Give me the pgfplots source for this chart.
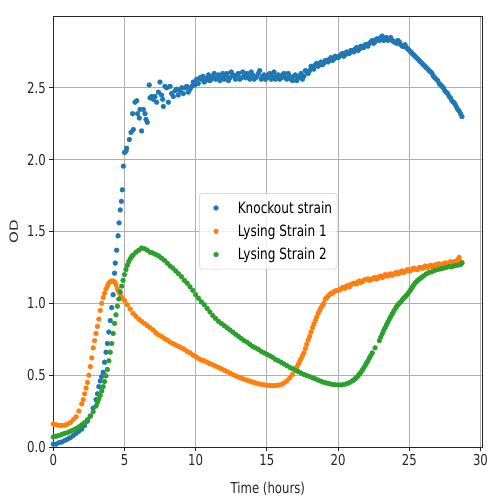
\documentclass[border=0pt]{standalone}
\usepackage{pgfplots}
\pgfplotsset{compat=1.18}
\usepackage{pgfplotstable}
\usepackage{fontspec}
\setmainfont{DejaVu Sans}[FakeStretch=0.78]
\newfontfamily\odfont{DejaVu Sans}
\definecolor{tabblue}{HTML}{1F77B4}
\definecolor{taborange}{HTML}{FF7F0E}
\definecolor{tabgreen}{HTML}{2CA02C}
\definecolor{gridc}{HTML}{B0B0B0}

\pgfplotstableread{
t od
0.0 0.02
0.2 0.02
0.4 0.03
0.6 0.035
0.8 0.045
1.0 0.055
1.2 0.065
1.4 0.08
1.6 0.095
1.8 0.11
2.0 0.125
2.2 0.15
2.4 0.18
2.6 0.215
2.8 0.27
3.0 0.33
3.1 0.37
3.2 0.42
3.3 0.46
3.4 0.49
3.5 0.52
3.6 0.59
3.7 0.66
3.8 0.72
3.9 0.80
4.0 0.88
4.1 0.97
4.2 1.06
4.3 1.21
4.35 1.28
4.45 1.37
4.55 1.47
4.62 1.56
4.7 1.65
4.78 1.71
4.85 1.79
4.92 1.955
5.0 2.05
5.11 2.06
5.15 2.08
5.34 2.14
5.46 2.19
5.62 2.21
5.57 2.32
5.86 2.41
5.74 2.40
5.92 2.32
6.04 2.29
6.09 2.35
6.2 2.20
6.32 2.35
6.44 2.32
6.51 2.28
6.6 2.26
6.74 2.52
6.79 2.43
6.91 2.44
7.02 2.42
7.14 2.44
7.26 2.40
7.38 2.47
7.49 2.54
7.6 2.45
7.68 2.42
7.73 2.37
7.84 2.51
7.96 2.50
8.08 2.40
8.2 2.51
8.31 2.46
8.43 2.44
8.55 2.48
8.66 2.49
8.78 2.45
8.9 2.48
9.02 2.50
9.13 2.46
9.25 2.50
9.37 2.51
9.48 2.47
9.6 2.49
9.72 2.51
9.83 2.54
9.95 2.52
10.07 2.56
10.18 2.53
10.3 2.57
10.4 2.56
10.6 2.54
10.8 2.57
11.0 2.55
11.2 2.58
11.4 2.56
11.6 2.59
11.8 2.57
12.0 2.56
12.2 2.60
12.4 2.57
12.6 2.59
12.8 2.56
13.0 2.60
13.2 2.57
13.4 2.58
13.6 2.60
13.8 2.56
14.0 2.59
14.2 2.57
14.4 2.60
14.6 2.56
14.8 2.59
15.0 2.57
15.2 2.60
15.4 2.58
15.6 2.56
15.8 2.59
16.0 2.57
16.2 2.60
16.4 2.56
16.6 2.58
16.8 2.55
17.0 2.59
17.2 2.57
17.4 2.60
17.6 2.58
17.8 2.61
18.0 2.62
18.2 2.64
18.4 2.66
18.6 2.65
18.8 2.68
19.0 2.67
19.2 2.69
19.4 2.70
19.6 2.69
19.8 2.72
20.0 2.71
20.2 2.73
20.4 2.72
20.6 2.75
20.8 2.74
21.0 2.76
21.2 2.77
21.4 2.76
21.6 2.79
21.8 2.78
22.0 2.80
22.2 2.81
22.4 2.83
22.6 2.82
22.8 2.84
23.0 2.85
23.2 2.83
23.4 2.85
23.6 2.84
23.8 2.83
24.0 2.82
24.2 2.83
24.4 2.80
24.6 2.79
24.8 2.78
25.0 2.76
25.2 2.74
25.4 2.72
25.6 2.70
25.8 2.68
26.0 2.66
26.2 2.64
26.4 2.62
26.6 2.60
26.8 2.57
27.0 2.55
27.2 2.52
27.4 2.50
27.6 2.47
27.8 2.44
28.0 2.41
28.2 2.39
28.4 2.35
28.6 2.32
28.7 2.30
10.5 2.58
10.7 2.55
10.9 2.59
11.1 2.56
11.3 2.60
11.5 2.57
11.7 2.55
11.9 2.60
12.1 2.58
12.3 2.55
12.5 2.61
12.7 2.58
12.9 2.59
13.1 2.56
13.3 2.61
13.5 2.57
13.7 2.58
13.9 2.61
14.1 2.56
14.3 2.58
14.5 2.62
14.7 2.58
14.9 2.56
15.1 2.59
15.3 2.56
15.5 2.61
15.7 2.58
15.9 2.56
16.1 2.59
16.3 2.57
16.5 2.60
16.7 2.56
16.9 2.58
17.1 2.55
17.3 2.58
17.5 2.56
17.7 2.62
17.9 2.60
18.1 2.65
18.3 2.63
18.5 2.67
18.7 2.66
18.9 2.66
19.1 2.69
19.3 2.68
19.5 2.71
19.7 2.70
19.9 2.71
20.1 2.72
20.3 2.74
20.5 2.73
20.7 2.74
20.9 2.76
21.1 2.75
21.3 2.78
21.5 2.77
21.7 2.78
21.9 2.80
22.1 2.79
22.3 2.82
22.5 2.81
22.7 2.84
22.9 2.83
23.1 2.86
23.3 2.84
23.5 2.83
23.7 2.85
23.9 2.82
24.1 2.81
24.3 2.82
24.5 2.79
24.7 2.80
24.9 2.77
25.1 2.75
25.3 2.73
25.5 2.71
25.7 2.69
25.9 2.67
26.1 2.65
26.3 2.63
26.5 2.61
26.7 2.58
26.9 2.56
27.1 2.53
27.3 2.51
27.5 2.48
27.7 2.46
27.9 2.43
28.1 2.40
28.3 2.37
28.5 2.34
}\knockout

\pgfplotstableread{
t od
0.0 0.16
0.2 0.155
0.4 0.15
0.6 0.15
0.8 0.152
1.0 0.16
1.2 0.17
1.4 0.19
1.6 0.21
1.8 0.25
2.0 0.30
2.1 0.33
2.2 0.37
2.3 0.41
2.4 0.45
2.5 0.50
2.6 0.56
2.7 0.62
2.8 0.69
2.9 0.74
3.0 0.79
3.1 0.84
3.2 0.89
3.3 0.95
3.4 1.00
3.5 1.04
3.6 1.07
3.7 1.10
3.8 1.12
3.9 1.14
4.0 1.15
4.1 1.155
4.2 1.155
4.3 1.15
4.4 1.13
4.5 1.10
4.6 1.08
4.7 1.06
4.8 1.04
5.0 1.02
5.2 0.99
5.4 0.96
5.6 0.93
5.8 0.91
6.0 0.89
6.2 0.875
6.4 0.86
6.6 0.845
6.8 0.83
7.0 0.815
7.2 0.795
7.4 0.78
7.6 0.77
7.8 0.755
8.0 0.745
8.2 0.73
8.4 0.72
8.6 0.71
8.8 0.70
9.0 0.69
9.2 0.68
9.4 0.665
9.6 0.655
9.8 0.64
10.0 0.63
10.2 0.615
10.4 0.605
10.6 0.60
10.8 0.59
11.0 0.58
11.2 0.572
11.4 0.563
11.6 0.554
11.8 0.545
12.0 0.535
12.2 0.525
12.4 0.515
12.6 0.505
12.8 0.495
13.0 0.487
13.2 0.48
13.4 0.472
13.6 0.465
13.8 0.458
14.0 0.452
14.2 0.446
14.4 0.44
14.6 0.436
14.8 0.433
15.0 0.43
15.2 0.428
15.4 0.427
15.6 0.428
15.8 0.43
16.0 0.435
16.2 0.445
16.4 0.46
16.6 0.48
16.8 0.505
17.0 0.535
17.2 0.575
17.4 0.615
17.6 0.655
17.8 0.715
18.0 0.77
18.2 0.83
18.4 0.88
18.6 0.93
18.8 0.97
19.0 1.00
19.2 1.04
19.4 1.06
19.6 1.07
19.8 1.085
20.0 1.09
20.2 1.10
20.4 1.11
20.6 1.12
20.8 1.115
21.0 1.135
21.2 1.14
21.4 1.15
21.6 1.145
21.8 1.16
22.0 1.165
22.2 1.16
22.4 1.17
22.6 1.18
22.8 1.175
23.0 1.19
23.2 1.185
23.4 1.195
23.6 1.20
23.8 1.195
24.0 1.21
24.2 1.205
24.4 1.22
24.6 1.215
24.8 1.23
25.0 1.225
25.2 1.235
25.4 1.24
25.6 1.235
25.8 1.25
26.0 1.245
26.2 1.255
26.4 1.26
26.6 1.255
26.8 1.265
27.0 1.27
27.2 1.265
27.4 1.275
27.6 1.28
27.8 1.275
28.0 1.285
28.2 1.29
28.4 1.30
28.5 1.32
28.6 1.29
28.7 1.285
17.1 0.555
17.3 0.595
17.5 0.635
17.7 0.685
17.9 0.745
18.1 0.80
18.3 0.855
18.5 0.905
18.7 0.95
18.9 0.985
19.1 1.03
19.3 1.05
19.5 1.07
19.7 1.08
19.9 1.09
20.1 1.095
20.3 1.11
20.5 1.105
20.7 1.125
20.9 1.13
21.1 1.14
21.3 1.135
21.5 1.155
21.7 1.15
21.9 1.165
22.1 1.17
22.3 1.165
22.5 1.175
22.7 1.17
22.9 1.185
23.1 1.18
23.3 1.20
23.5 1.19
23.7 1.205
23.9 1.20
24.1 1.215
24.3 1.21
24.5 1.225
24.7 1.22
24.9 1.235
25.1 1.23
25.3 1.245
25.5 1.235
25.7 1.25
25.9 1.245
26.1 1.26
26.3 1.25
26.5 1.265
26.7 1.26
26.9 1.27
27.1 1.275
27.3 1.27
27.5 1.28
27.7 1.275
27.9 1.29
28.1 1.285
28.3 1.295
}\lysingone

\pgfplotstableread{
t od
0.0 0.07
0.2 0.075
0.4 0.08
0.6 0.088
0.8 0.095
1.0 0.10
1.2 0.11
1.4 0.118
1.6 0.128
1.8 0.14
2.0 0.155
2.2 0.17
2.4 0.19
2.6 0.215
2.8 0.245
3.0 0.285
3.1 0.31
3.2 0.335
3.3 0.36
3.4 0.39
3.5 0.42
3.6 0.455
3.7 0.495
3.8 0.54
3.9 0.60
4.0 0.66
4.1 0.72
4.2 0.79
4.3 0.86
4.4 0.92
4.5 0.98
4.6 1.03
4.7 1.08
4.8 1.12
4.9 1.16
5.0 1.20
5.1 1.235
5.2 1.265
5.3 1.29
5.4 1.31
5.5 1.325
5.6 1.335
5.8 1.355
6.0 1.37
6.2 1.385
6.4 1.38
6.6 1.37
6.8 1.355
7.0 1.35
7.2 1.34
7.4 1.33
7.6 1.315
7.8 1.30
8.0 1.28
8.2 1.26
8.4 1.245
8.6 1.225
8.8 1.205
9.0 1.185
9.2 1.16
9.4 1.14
9.6 1.115
9.8 1.09
10.0 1.06
10.2 1.035
10.4 1.01
10.6 0.99
10.8 0.965
11.0 0.94
11.2 0.915
11.4 0.895
11.6 0.875
11.8 0.86
12.0 0.845
12.2 0.83
12.4 0.815
12.6 0.80
12.8 0.785
13.0 0.77
13.2 0.755
13.4 0.74
13.6 0.73
13.8 0.715
14.0 0.70
14.2 0.69
14.4 0.68
14.6 0.665
14.8 0.655
15.0 0.645
15.2 0.635
15.4 0.625
15.6 0.61
15.8 0.60
16.0 0.59
16.2 0.578
16.4 0.567
16.6 0.555
16.8 0.545
17.0 0.535
17.2 0.525
17.4 0.515
17.6 0.505
17.8 0.497
18.0 0.49
18.2 0.482
18.4 0.474
18.6 0.466
18.8 0.458
19.0 0.45
19.2 0.445
19.4 0.44
19.6 0.436
19.8 0.433
20.0 0.432
20.2 0.432
20.4 0.435
20.6 0.44
20.8 0.448
21.0 0.46
21.2 0.475
21.4 0.495
21.6 0.52
21.8 0.55
22.0 0.585
22.2 0.62
22.4 0.655
22.6 0.69
22.9 0.74
23.0 0.765
23.2 0.81
23.4 0.85
23.6 0.89
23.8 0.925
24.0 0.96
24.2 0.99
24.4 1.01
24.6 1.035
24.8 1.055
25.0 1.08
25.2 1.11
25.4 1.14
25.6 1.16
25.8 1.175
26.0 1.19
26.2 1.205
26.4 1.215
26.6 1.22
26.8 1.23
27.0 1.235
27.2 1.24
27.4 1.245
27.6 1.25
27.8 1.255
28.0 1.255
28.2 1.262
28.4 1.265
28.6 1.27
28.7 1.28
21.1 0.467
21.3 0.485
21.5 0.507
21.7 0.535
21.9 0.567
22.1 0.60
22.3 0.637
23.1 0.787
23.3 0.83
23.5 0.87
23.7 0.907
23.9 0.943
24.1 0.975
24.3 1.00
24.5 1.022
24.7 1.045
24.9 1.067
25.1 1.095
25.3 1.125
25.5 1.15
25.7 1.168
25.9 1.183
}\lysingtwo

\begin{document}
\begin{tikzpicture}
\path[use as bounding box] (0,0) rectangle (500pt,500pt);
\begin{axis}[
  at={(53.3pt,53pt)}, anchor=south west,
  width=429pt, height=431pt, scale only axis,
  xmin=0, xmax=30.13, ymin=0, ymax=3.0,
  xtick={0,5,10,15,20,25,30},
  ytick={0,0.5,1.0,1.5,2.0,2.5},
  /pgf/number format/assume math mode=true,
  yticklabel style={/pgf/number format/fixed, /pgf/number format/fixed zerofill, /pgf/number format/precision=1},
  ticklabel style={font=\fontsize{15}{18}\selectfont, text=black!85},
  label style={font=\fontsize{15}{18}\selectfont, text=black!85},
  grid=major,
  grid style={color=gridc, line width=0.8pt},
  axis line style={black!85, line width=0.8pt},
  tick style={black!85, line width=0.8pt},
  tick align=outside, tick pos=left,
  major tick length=4pt,
  xlabel={Time (hours)},
  ylabel={\scalebox{1}[0.75]{\odfont OD}},
  xlabel style={at={(axis description cs:0.5,0)}, anchor=center, yshift=-42pt},
  ylabel style={at={(axis description cs:-0.0923,0.5)}, anchor=center},
  legend style={at={(0.34,0.589)}, anchor=north west, draw=black!22, rounded corners=3pt,
    fill=white, fill opacity=0.8, text opacity=1, draw opacity=1, font=\fontsize{15.5}{18}\selectfont,
    inner xsep=3pt, inner ysep=6pt, row sep=6pt},
  legend cell align=left,
  legend image code/.code={\path (0pt,0pt) (33pt,0pt); \draw[#1, fill opacity=1, draw opacity=1] plot coordinates {(13.5pt,0pt)};},
]
\addplot[only marks, mark=*, mark size=2.4pt, color=tabblue] table[x=t,y=od] {\knockout};
\addlegendentry{Knockout strain}
\addplot[only marks, mark=*, mark size=2.4pt, color=taborange] table[x=t,y=od] {\lysingone};
\addlegendentry{Lysing Strain 1}
\addplot[only marks, mark=*, mark size=2.4pt, color=tabgreen] table[x=t,y=od] {\lysingtwo};
\addlegendentry{Lysing Strain 2}
\end{axis}
\end{tikzpicture}
\end{document}
